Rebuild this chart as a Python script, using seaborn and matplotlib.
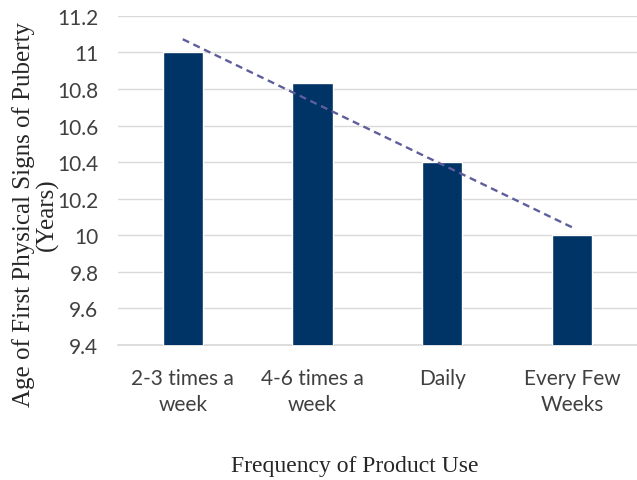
import numpy as np
import pandas as pd
import seaborn as sns
import matplotlib.pyplot as plt

# data
categories = ['2-3 times a\nweek', '4-6 times a\nweek', 'Daily', 'Every Few\nWeeks']
ages = [11.0, 10.83, 10.4, 10.0]
y_ticks = [9.4, 9.6, 9.8, 10, 10.2, 10.4, 10.6, 10.8, 11, 11.2]
y_tick_labels = ['9.4', '9.6', '9.8', '10', '10.2', '10.4', '10.6', '10.8', '11', '11.2']

df = pd.DataFrame({'Frequency': categories, 'Age': ages})

sns.set_theme(style='white')
plt.rcParams['font.family'] = ['Lato', 'DejaVu Sans']

fig = plt.figure(figsize=(6.37, 4.81), dpi=100)
ax = fig.add_axes([0.185, 0.281, 0.815, 0.684])

sns.barplot(data=df, x='Frequency', y='Age', color='#003366', width=0.31,
            saturation=1, ax=ax, zorder=3)

# linear trendline (Excel style)
x = np.arange(len(ages))
slope, intercept = np.polyfit(x, ages, 1)
ax.plot(x, slope * x + intercept, linestyle=(0, (3, 2)), color='#5E5E9C',
        linewidth=1.7, zorder=4)

ax.set_ylim(9.4, 11.2)
ax.set_yticks(y_ticks)
ax.set_yticklabels(y_tick_labels)
ax.set_xlim(-0.5, 3.5)
ax.grid(axis='y', color='#d9d9d9', linewidth=1, zorder=0)
for side in ['top', 'right', 'left']:
    ax.spines[side].set_visible(False)
ax.spines['bottom'].set_color('#d9d9d9')
ax.tick_params(axis='both', length=0, labelsize=15, labelcolor='#404040')
ax.tick_params(axis='y', pad=14)
ax.tick_params(axis='x', pad=17)
for lbl in ax.get_xticklabels():
    lbl.set_linespacing(1.35)

ax.set_xlabel('Frequency of Product Use', family='Liberation Serif', fontsize=17,
              color='#262626')
ax.xaxis.set_label_coords(0.457, -0.334)
ax.set_ylabel('Age of First Physical Signs of Puberty\n(Years)', family='Liberation Serif',
              fontsize=18, color='#262626', linespacing=1.08)
ax.yaxis.set_label_coords(-0.113, 0.40)

fig.savefig('out.png', dpi=100)
